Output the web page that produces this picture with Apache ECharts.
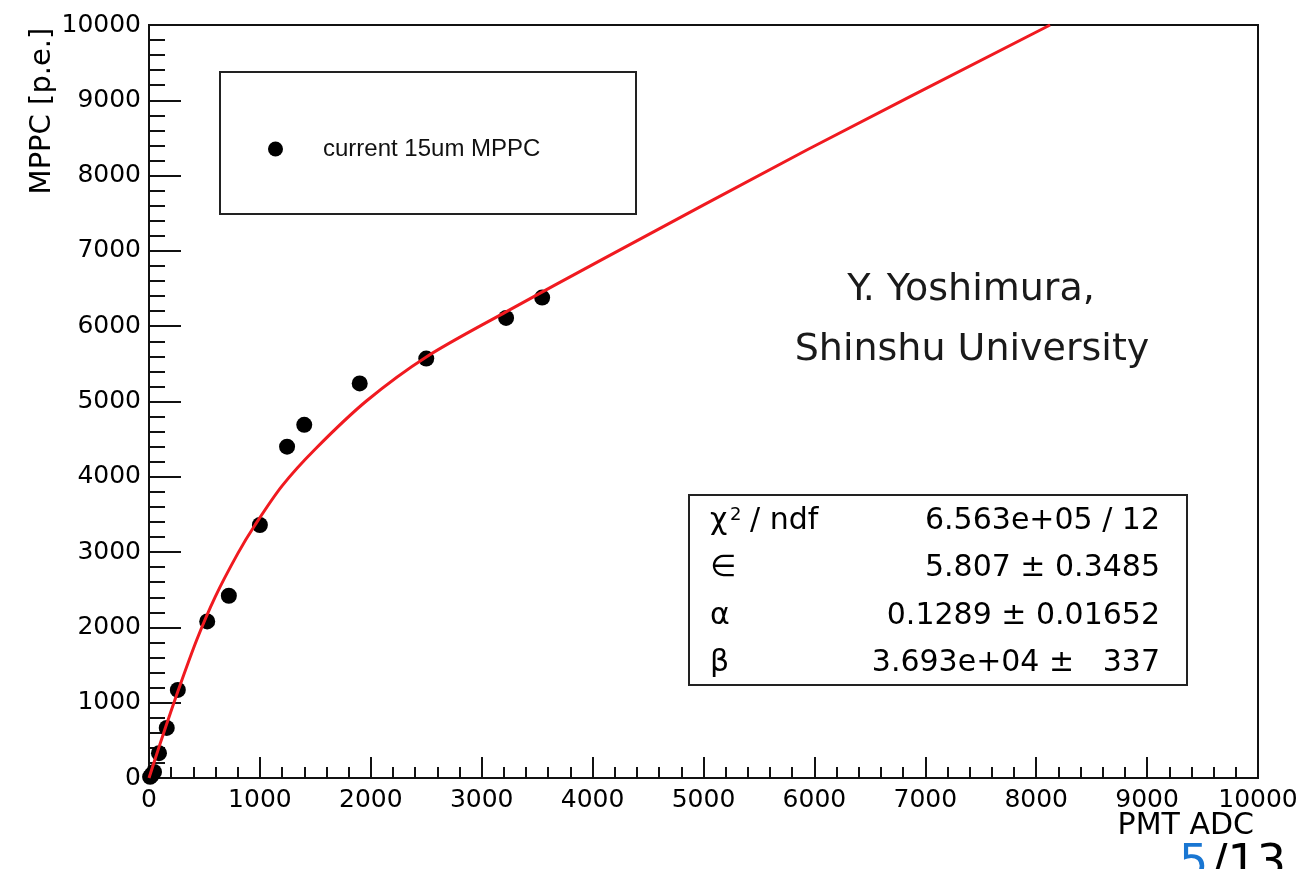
<!DOCTYPE html>
<html><head><meta charset="utf-8">
<script src="https://cdn.jsdelivr.net/npm/echarts@6/dist/echarts.min.js"></script>
<style>html,body{margin:0;padding:0;background:#fff}#c{width:1302px;height:869px}</style>
</head><body><div id="c"></div>
<script>
// measured points (PMT ADC vs MPPC p.e.)
const pmtAdc = [10, 25, 45, 90, 160, 260, 525, 720, 1000, 1245, 1400, 1900, 2500, 3220, 3545];
const mppcPe = [15, 40, 80, 330, 665, 1170, 2080, 2420, 3360, 4400, 4690, 5240, 5570, 6110, 6380];
// fit curve
const fitX = [0, 90, 160, 260, 430, 595, 800, 956, 1200, 1500, 1963, 2504, 3219, 4067, 5931, 8125];
const fitY = [0, 410, 720, 1150, 1833, 2400, 2980, 3360, 3880, 4370, 5010, 5595, 6190, 6870, 8340, 10000];
const seriesName = 'current 15um MPPC';
const xTitle = 'PMT ADC';
const yTitle = 'MPPC [p.e.]';
const statsLabels = ['χ', '∈', 'α', 'β'];
const statsValues = ['6.563e+05 / 12', '5.807 ± 0.3485', '0.1289 ± 0.01652', '3.693e+04 ±   337'];
const creditLines = ['Y. Yoshimura,', 'Shinshu University'];

const F = 'DejaVu Sans';
const chart = echarts.init(document.getElementById('c'), null, {renderer: 'canvas'});
const rowY = [521, 568, 616, 663];
const graphics = [
  {type: 'rect', shape: {x: 220, y: 72, width: 416, height: 142}, style: {fill: '#fff', stroke: '#222', lineWidth: 2}, z: 1},
  {type: 'rect', shape: {x: 689, y: 495, width: 498, height: 190}, style: {fill: '#fff', stroke: '#222', lineWidth: 2}, z: 1},
  {type: 'text', x: 42, y: 111, rotation: Math.PI / 2, style: {text: yTitle, x: 0, y: 0, align: 'center', verticalAlign: 'middle', font: '29px "DejaVu Sans"', fill: '#000'}},
  {type: 'text', x: 1254, y: 826, style: {text: xTitle, align: 'right', verticalAlign: 'middle', font: '30px "DejaVu Sans"', fill: '#000'}},
  {type: 'text', x: 971, y: 290, style: {text: creditLines[0], align: 'center', verticalAlign: 'middle', font: '38px "DejaVu Sans"', fill: '#1a1a1a'}, z: 5},
  {type: 'text', x: 972, y: 350, style: {text: creditLines[1], align: 'center', verticalAlign: 'middle', font: '38px "DejaVu Sans"', fill: '#1a1a1a'}, z: 5},
  {type: 'text', x: 730, y: 506, style: {text: '2', align: 'left', verticalAlign: 'top', font: '18px "DejaVu Sans"', fill: '#000'}, z: 5},
  {type: 'text', x: 750, y: rowY[0], style: {text: '/ ndf', align: 'left', verticalAlign: 'middle', font: '30px "DejaVu Sans"', fill: '#000'}, z: 5},
  {type: 'text', x: 1179, y: 842, style: {text: '5', align: 'left', verticalAlign: 'top', font: '46px "DejaVu Sans"', fill: '#1976d2'}, z: 5},
  {type: 'text', x: 1212, y: 842, style: {text: '/13', align: 'left', verticalAlign: 'top', font: '46px "DejaVu Sans"', fill: '#000'}, z: 5}
];
statsLabels.forEach((t, i) => {
  graphics.push({type: 'text', x: 710, y: rowY[i], style: {text: t, align: 'left', verticalAlign: 'middle', font: '30px "DejaVu Sans"', fill: '#000'}, z: 5});
  graphics.push({type: 'text', x: 1160, y: rowY[i], style: {text: statsValues[i], align: 'right', verticalAlign: 'middle', font: '30px "DejaVu Sans"', fill: '#000'}, z: 5});
});

const axisCommon = {
  type: 'value', min: 0, max: 10000, interval: 1000,
  axisLine: {show: true, onZero: false, lineStyle: {color: '#111', width: 2}},
  axisTick: {show: true, inside: true, lineStyle: {color: '#111', width: 2}},
  minorTick: {show: true, splitNumber: 5, lineStyle: {color: '#111', width: 2}},
  splitLine: {show: false},
  axisLabel: {color: '#000', fontFamily: F, fontSize: 25, formatter: v => String(v)}
};

chart.setOption({
  animation: false,
  backgroundColor: '#fff',
  grid: {left: 149, right: 44, top: 25, bottom: 91, show: true, borderColor: '#111', borderWidth: 2, containLabel: false},
  xAxis: Object.assign({}, axisCommon, {
    axisTick: Object.assign({}, axisCommon.axisTick, {length: 21}),
    minorTick: Object.assign({}, axisCommon.minorTick, {length: 11}),
    axisLabel: Object.assign({}, axisCommon.axisLabel, {margin: 10})
  }),
  yAxis: Object.assign({}, axisCommon, {
    axisTick: Object.assign({}, axisCommon.axisTick, {length: 32}),
    minorTick: Object.assign({}, axisCommon.minorTick, {length: 16}),
    axisLabel: Object.assign({}, axisCommon.axisLabel, {margin: 8})
  }),
  legend: {
    left: 263, top: 132, itemWidth: 15, itemHeight: 15, z: 10,
    data: [{name: seriesName, icon: 'circle', itemStyle: {color: '#000', opacity: 1}}],
    textStyle: {fontFamily: 'Liberation Sans', fontSize: 24, color: '#111', padding: [0, 0, 0, 35]}
  },
  graphic: graphics,
  series: [
    {name: seriesName, type: 'scatter', symbol: 'circle', symbolSize: 16, itemStyle: {color: '#000', opacity: 1}, z: 3,
     data: pmtAdc.map((x, i) => [x, mppcPe[i]])},
    {name: 'fit', type: 'line', showSymbol: false, smooth: 0.3, clip: true, z: 4,
     lineStyle: {color: '#f01a20', width: 3}, itemStyle: {color: '#f01a20'},
     data: fitX.map((x, i) => [x, fitY[i]])}
  ]
});
</script>
</body></html>
